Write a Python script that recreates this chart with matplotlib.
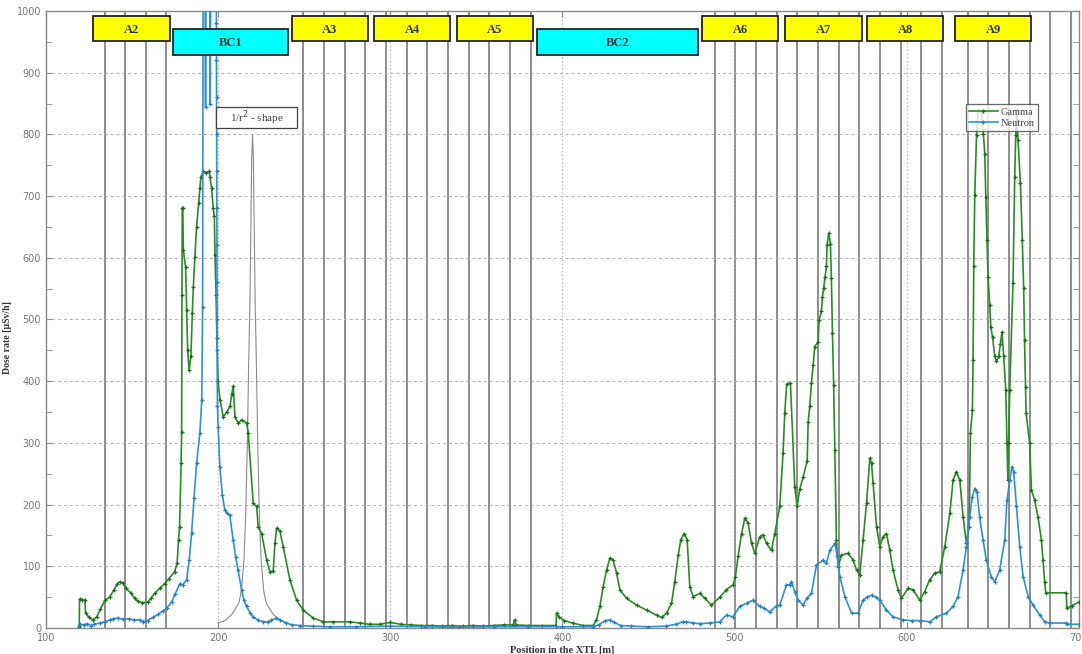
import matplotlib
matplotlib.use("Agg")
import matplotlib.pyplot as plt
from matplotlib.patches import Rectangle
from matplotlib.ticker import MultipleLocator

# ---- data ----
gamma_x = [119.3, 119.5, 121, 122.6, 123, 125, 127.5, 129.5, 131.5, 134.3, 137, 139.5, 141.5, 143, 144.5,
           146.5, 149.6, 151.5, 153.4, 156, 159.2, 161, 163.1, 166, 168.9, 171.5, 174.7, 176.2, 177, 177.6,
           178.5, 178.8, 179.0, 179.2, 179.4, 179.8, 181.1, 181.7, 182.3, 183.1, 184.2, 185.0, 185.6, 186.5,
           187.5, 188.7, 189.4, 190.0, 191.4, 193, 194.9, 195.3, 196.2, 197.2, 197.8, 198.2, 198.8, 199.3,
           200, 201.1, 203.0, 205, 206.9, 208.0, 208.8, 209.8, 211.7, 213.6, 216.6, 217.5, 220.4, 222.4,
           223.3, 225.3, 228.2, 230.1, 232.0, 233.0, 234.0, 235.9, 237.8, 241.7, 245.6, 249.4, 255.3, 261.1,
           266.9, 276.6, 282.4, 288, 294, 300, 306, 312, 318, 324, 330, 336, 342, 348, 354, 360, 366, 371.5,
           372.2, 373, 380, 388, 396.3, 396.6, 398, 401, 406, 412, 417.9, 419.8, 421.8, 423.7, 425.7, 427.6,
           429.5, 431.5, 433.4, 437.3, 443.1, 448.9, 454.7, 457.6, 460.5, 463.4, 465.3, 467.3, 468.8, 470.7,
           472.5, 474.0, 476.0, 479.9, 482.8, 486.6, 491.5, 495.3, 499.2, 500.5, 502.1, 504.1, 506.0, 507.9,
           509.9, 511.8, 514.7, 516.6, 518.6, 521.5, 523.4, 526.3, 528.2, 529.2, 530.3, 532.5, 535.0, 536.4,
           537.9, 539.9, 542.2, 542.8, 543.7, 544.7, 545.7, 546.6, 548.6, 549.1, 550.5, 551.1, 551.8, 552.6,
           553.4, 553.8, 554.8, 555.7, 556.3, 556.9, 557.6, 558.3, 559.2, 560.2, 562.1, 566.0, 568.9, 570.9,
           572.8, 574.7, 576.7, 578.6, 579.6, 580.5, 582.5, 584.4, 586.3, 588.3, 590.2, 592.1, 595.0, 597.0,
           600.8, 603.7, 607.6, 610.5, 613.4, 616.3, 619.2, 622.2, 625.1, 627.0, 628.9, 630.9, 632.8, 634.7,
           636.3, 637.1, 638.2, 638.6, 639.0, 639.6, 640.6, 641.5, 643.5, 644.6, 645.4, 646.0, 646.7, 647.3,
           648.3, 648.9, 649.9, 651.2, 652.2, 653.5, 654.5, 655.4, 656.4, 657.6, 658.3, 658.8, 659.3, 659.9,
           661.8, 662.8, 663.4, 664.0, 664.7, 666.1, 667.2, 668.0, 668.5, 669.1, 669.4, 671.5, 672.5, 674.4,
           676.3, 678.3, 679.2, 680.2, 680.8, 692.8, 693.0, 696, 700]
gamma_y = [3, 47, 46, 45, 24, 17, 13, 18, 30, 45, 50, 62, 72, 75, 73,
           64, 56, 48, 43, 41, 42, 48, 56, 64, 72, 80, 91, 105, 143, 164,
           267, 318, 540, 681, 680, 613, 585, 515, 451, 418, 440, 510, 553, 602,
           650, 688, 713, 731, 740, 738, 740, 731, 713, 680, 667, 605, 540, 470,
           400, 370, 342, 350, 359, 380, 392, 342, 332, 337, 332, 316, 202, 197,
           164, 153, 110, 91, 92, 137, 162, 157, 132, 78, 45, 29, 16, 10,
           10, 10, 8, 6, 6, 9, 6, 5, 4, 4, 3, 4, 3, 4, 3, 4, 5, 5,
           13, 5, 4, 4, 4, 24, 18, 12, 8, 4, 4, 13, 35, 67, 94, 113,
           110, 89, 62, 48, 37, 29, 21, 17, 24, 40, 75, 118, 143, 153,
           143, 67, 51, 56, 48, 37, 50, 62, 70, 83, 116, 153, 178, 170,
           137, 121, 148, 151, 137, 126, 153, 197, 283, 348, 395, 397, 229, 197,
           225, 245, 270, 334, 359, 397, 426, 456, 464, 499, 513, 537, 551, 569,
           586, 621, 640, 623, 567, 478, 394, 288, 143, 99, 118, 121, 110, 94,
           86, 143, 202, 275, 267, 235, 164, 132, 148, 153, 126, 94, 62, 48,
           64, 62, 45, 59, 78, 89, 91, 132, 186, 240, 253, 240, 180, 137,
           164, 316, 353, 434, 586, 702, 799, 840, 835, 800, 769, 699, 629, 569,
           523, 488, 472, 440, 432, 440, 461, 480, 440, 386, 300, 240, 300, 386,
           559, 731, 799, 840, 791, 721, 629, 551, 467, 391, 348, 299, 224, 207,
           180, 143, 110, 75, 57, 57, 32, 36, 42]

neutron_x = [119.3, 120, 122, 124, 126, 128, 131.4, 134, 137, 139.1, 142, 145, 148, 151, 154.6, 156.5, 159,
             162, 165, 168, 170.1, 173, 175, 177.8, 179.5, 181.7, 183.2, 184.6, 186, 187.5, 189.4, 190.5,
             191.0, 191.3, 192.3, 192.7, 193.1, 195.0, 195.4, 195.8, 198.9, 199.0, 199.05, 199.1, 199.15,
             199.2, 199.25, 199.3, 199.35, 199.4, 199.45, 199.5, 199.6, 200, 201.0, 202.5, 203.9, 205, 206.8,
             208.7, 210.2, 211.6, 213.6, 215, 216.5, 218.5, 220.4, 223, 226.2, 229, 231, 233.9, 236, 239.7,
             243, 247.5, 255, 265, 280, 300, 320, 340, 360, 380, 400, 417.9, 421, 425, 427.6, 430, 434, 440,
             450, 460, 466, 470, 472.1, 476, 480, 485.7, 491.5, 495.4, 499, 503.1, 507, 510.8, 514.7, 517,
             520.5, 524, 526.3, 530.2, 532.1, 533.1, 535, 537.0, 539.9, 542, 544.7, 547.6, 551.5, 553.4,
             555.4, 558.3, 559.7, 561.2, 564.1, 568.0, 571.9, 574.7, 577, 579.6, 582, 584.4, 588.3, 592.1,
             597.9, 603, 607.6, 613.4, 617.3, 623.1, 627.0, 629.9, 632.8, 634.7, 636.6, 638.2, 639.6, 640.9,
             642.4, 644.4, 646.3, 649.2, 651.2, 654.1, 657.0, 658.3, 659.9, 661.2, 662.2, 663.8, 665.7,
             667.7, 670.6, 673.5, 677.3, 680.2, 683.1, 692.8, 693, 700]
neutron_y = [2, 6, 5, 7, 4, 6, 8, 10, 13, 15, 16, 14, 15, 13, 13, 10, 12,
             17, 22, 28, 32, 42, 55, 72, 70, 78, 110, 154, 210, 267, 316, 370,
             520, 1100, 1100, 845, 1100, 1100, 850, 1100, 1100, 980, 920, 860, 800,
             740, 680, 620, 560, 500, 450, 400, 360, 326, 261, 215, 191, 186, 183,
             143, 115, 94, 62, 45, 35, 25, 18, 13, 10, 10, 13, 16, 13, 8,
             5, 4, 3, 2, 2, 3, 2, 1, 2, 2, 2, 2, 5, 12, 13, 9, 4, 3,
             2, 3, 6, 10, 10, 8, 7, 8, 10, 21, 18, 35, 40, 45, 35, 32,
             26, 35, 37, 70, 70, 75, 59, 45, 37, 48, 56, 102, 110, 105,
             126, 137, 116, 83, 51, 24, 24, 45, 50, 53, 50, 45, 29, 18,
             13, 12, 12, 10, 18, 24, 35, 51, 94, 132, 180, 213, 226, 221,
             180, 143, 110, 83, 75, 94, 143, 207, 240, 261, 253, 197, 132,
             83, 51, 37, 21, 10, 8, 8, 6, 6]

# 1/r^2 guide curve
shape_x = [200, 204, 208, 212, 213.5, 215, 216, 217, 217.7, 218.5, 219.5, 220,
           220.5, 221.5, 222.3, 223, 224, 225, 226.5, 228, 232, 236, 240]
shape_y = [8, 12, 22, 40, 60, 110, 180, 300, 420, 530, 760, 800,
           760, 530, 420, 300, 180, 110, 60, 40, 22, 12, 8]

# magnet positions (vertical lines) and section boxes
magnet_x = [134, 146, 158, 170,
            249.5, 261.5, 273.5, 285.5, 297.5, 309.5, 321.5, 333.5, 345.5, 357.5, 369.5, 381.5,
            488.5, 500.5, 512.5, 524.5, 536.5, 548.5, 560.5, 572.5, 584.5, 596.5, 608.5, 620.5,
            635.5, 647.5, 659.5, 671.5, 683.5, 695.5]
box_names = ["A2", "BC1", "A3", "A4", "A5", "BC2", "A6", "A7", "A8", "A9"]
box_start = [127.3, 173.6, 242.7, 290.5, 338.5, 385.0, 481.1, 529.6, 577.2, 628.0]
box_end = [172.0, 240.6, 287.0, 335.0, 382.7, 478.9, 525.3, 574.1, 621.4, 672.5]

GREEN = "#2a8a2a"
BLUE = "#3191d0"
SERIF = ["Liberation Serif", "DejaVu Serif"]

fig = plt.figure(figsize=(10.82, 6.54), dpi=100)
ax = fig.add_axes([0.0425, 0.0398, 0.9545, 0.9434])

ax.set_xlim(100, 700)
ax.set_ylim(0, 1000)

# grid
ax.xaxis.set_major_locator(MultipleLocator(100))
ax.yaxis.set_major_locator(MultipleLocator(100))
ax.yaxis.set_minor_locator(MultipleLocator(50))
ax.grid(axis="y", which="major", color="#b0b0b0", linestyle=(0, (3, 3)), linewidth=0.7)
ax.grid(axis="x", which="major", color="#b0b0b0", linestyle=(0, (1, 2)), linewidth=0.9)

for mx in magnet_x:
    ax.axvline(mx, color="#7a7a7a", linewidth=1.2, zorder=1)

# curves
ax.plot(gamma_x, gamma_y, color=GREEN, linewidth=1.2, marker="+", markersize=3.5,
        markeredgewidth=0.9, markeredgecolor="#1e6e1e", label="Gamma", zorder=3)
ax.plot(neutron_x, neutron_y, color=BLUE, linewidth=1.2, marker="+", markersize=3.5,
        markeredgewidth=0.9, markeredgecolor="#2a7fbf", label="Neutron", zorder=3)
ax.plot(shape_x, shape_y, color="#8a8a8a", linewidth=0.8, zorder=2)

# section boxes
for name, x0, x1 in zip(box_names, box_start, box_end):
    if name.startswith("BC"):
        y0, y1, fc = 928.7, 970.3, "#00ffff"
    else:
        y0, y1, fc = 950.9, 991.9, "#ffff00"
    ax.add_patch(Rectangle((x0, y0), x1 - x0, y1 - y0, facecolor=fc, edgecolor="#222222",
                           linewidth=1.3, zorder=5, clip_on=False))
    ax.text((x0 + x1) / 2, (y0 + y1) / 2 - 2, name, ha="center", va="center", fontsize=9,
            fontweight="bold", family=SERIF, color="#333333", zorder=6)

# 1/r^2 label
ax.add_patch(Rectangle((198.7, 810), 47.2, 35, facecolor="white", edgecolor="#444444",
                       linewidth=0.9, zorder=5))
ax.text(222.3, 827, "1/r$^2$ - shape", ha="center", va="center", fontsize=8,
        family=SERIF, color="#444444", zorder=6)

# axes styling
for s in ax.spines.values():
    s.set_color("#8a8a8a")
    s.set_linewidth(1.0)
ax.tick_params(axis="both", which="both", direction="in", colors="#8a8a8a",
               labelcolor="#777777", labelsize=7, right=True, top=True)
ax.tick_params(axis="both", which="major", length=4)
ax.tick_params(axis="both", which="minor", length=4)

ax.set_xlabel("Position in the XTL [m]", fontsize=7.5, fontweight="bold", family=SERIF,
              color="#333333", labelpad=2)
ax.set_ylabel("Dose rate [\u00b5Sv/h]", fontsize=7, fontweight="bold", family=SERIF,
              color="#333333")
ax.yaxis.set_label_coords(-0.033, 0.47)

leg = ax.legend(loc="upper left", bbox_to_anchor=(0.8905, 0.849),
                prop={"family": SERIF, "size": 7.5}, frameon=True, fancybox=False,
                borderpad=0.3, handlelength=2.8, handletextpad=0.3, labelspacing=0.2,
                borderaxespad=0)
leg.get_frame().set_edgecolor("#444444")
leg.get_frame().set_linewidth(0.9)
leg.set_zorder(7)
for t in leg.get_texts():
    t.set_color("#444444")

fig.savefig("out.png", dpi=100)
